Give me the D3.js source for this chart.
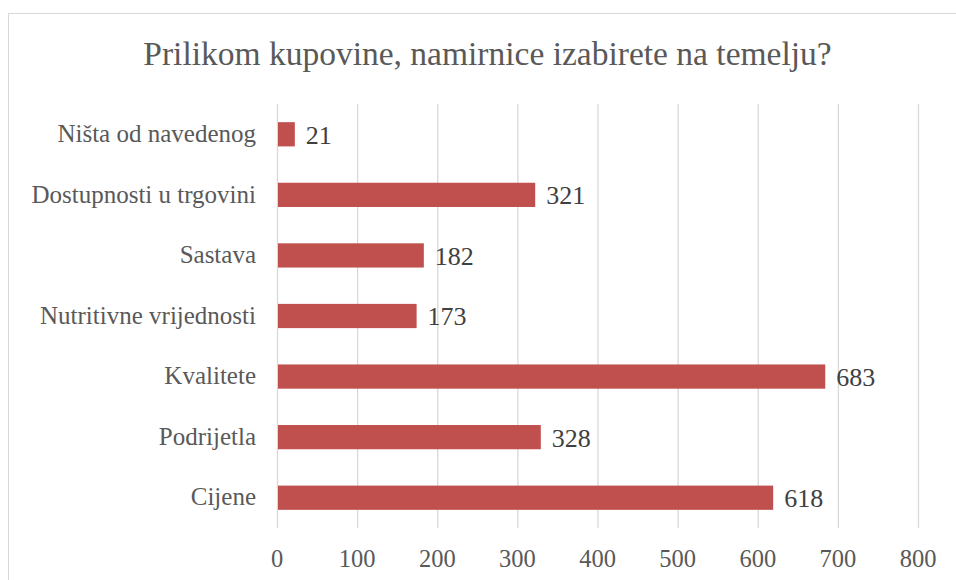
<!DOCTYPE html>
<html><head><meta charset="utf-8">
<script src="https://cdn.jsdelivr.net/npm/d3@7"></script>
<style>body{margin:0;background:#fff}</style>
</head><body>
<svg id="c" width="956" height="580"></svg>
<script>
const categories = ["Ništa od navedenog","Dostupnosti u trgovini","Sastava","Nutritivne vrijednosti","Kvalitete","Podrijetla","Cijene"];
const values = [21,321,182,173,683,328,618];
const ticks = [0,100,200,300,400,500,600,700,800];
const title = "Prilikom kupovine, namirnice izabirete na temelju?";

const svg = d3.select("#c");
const font = "'Liberation Serif', serif";
svg.append("rect").attr("x",8.5).attr("y",13.5).attr("width",960).attr("height",600)
  .attr("fill","#fff").attr("stroke","#d9d9d9");

const x = d3.scaleLinear().domain([0,800]).range([277,918]);
const y = d3.scaleBand().domain(categories).range([104,528]).paddingInner(0.6).paddingOuter(0.3);

svg.append("g").selectAll("line").data(ticks).join("line")
  .attr("x1",d=>x(d)+0.5).attr("x2",d=>x(d)+0.5).attr("y1",104).attr("y2",528)
  .attr("stroke","#d9d9d9").attr("stroke-width",1.3);

svg.append("g").selectAll("rect").data(values).join("rect")
  .attr("x",x(0)+1).attr("y",(d,i)=>y(categories[i]))
  .attr("width",d=>x(d)-x(0)).attr("height",y.bandwidth()).attr("fill","#c0504d");

svg.append("g").selectAll("text").data(values).join("text")
  .attr("x",d=>x(d)+12).attr("y",(d,i)=>y(categories[i])+y.bandwidth()/2)
  .attr("dy","0.36em").attr("font-family",font).attr("font-size",26).attr("fill","#404040")
  .text(d=>d);

svg.append("g").selectAll("text").data(categories).join("text")
  .attr("x",256).attr("y",d=>y(d)+y.bandwidth()/2).attr("dy","0.31em")
  .attr("text-anchor","end").attr("font-family",font).attr("font-size",25).attr("fill","#595959")
  .text(d=>d);

svg.append("g").selectAll("text").data(ticks).join("text")
  .attr("x",d=>x(d)).attr("y",567).attr("text-anchor","middle")
  .attr("font-family",font).attr("font-size",24.5).attr("fill","#595959").text(d=>d);

svg.append("text").attr("x",487.5).attr("y",65).attr("text-anchor","middle")
  .attr("font-family",font).attr("font-size",33.5).attr("fill","#595959").text(title);
</script>
</body></html>
